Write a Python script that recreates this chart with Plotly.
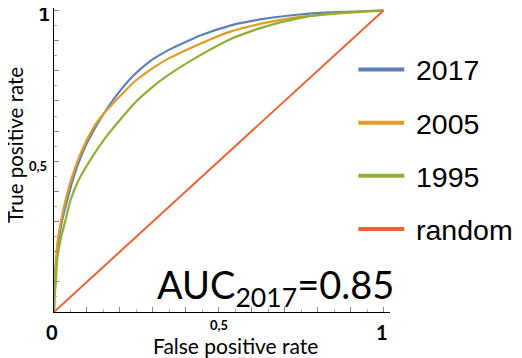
import plotly.graph_objects as go

# ROC curves (false positive rate, true positive rate)
fpr_2017 = [0, 0.002, 0.0076, 0.0145, 0.025, 0.040, 0.060, 0.090, 0.121, 0.171, 0.2015,
            0.242, 0.292, 0.343, 0.444, 0.535, 0.636, 0.737, 0.838, 1]
tpr_2017 = [0, 0.10, 0.172, 0.239, 0.305, 0.371, 0.449, 0.537, 0.604, 0.690, 0.735,
            0.785, 0.832, 0.866, 0.917, 0.950, 0.972, 0.986, 0.994, 1]

fpr_2005 = [0, 0.0015, 0.005, 0.0115, 0.022, 0.035, 0.055, 0.085, 0.116, 0.141, 0.171,
            0.2015, 0.242, 0.292, 0.343, 0.444, 0.535, 0.636, 0.737, 0.838, 1]
tpr_2005 = [0, 0.096, 0.16, 0.239, 0.305, 0.371, 0.449, 0.537, 0.604, 0.645, 0.682,
            0.717, 0.762, 0.803, 0.838, 0.890, 0.930, 0.958, 0.977, 0.988, 1]

fpr_1995 = [0, 0.0015, 0.0045, 0.0097, 0.0197, 0.035, 0.05, 0.075, 0.11, 0.161, 0.242,
            0.292, 0.343, 0.444, 0.535, 0.595, 0.636, 0.737, 0.838, 1]
tpr_1995 = [0, 0.05, 0.084, 0.172, 0.239, 0.305, 0.371, 0.438, 0.504, 0.585, 0.690,
            0.740, 0.783, 0.852, 0.905, 0.930, 0.945, 0.973, 0.990, 1]

fpr_random = [0, 1]
tpr_random = [0, 1]

series_names = ["2017", "2005", "1995", "random"]
series_colours = ["#5e81b5", "#e19c24", "#8fb032", "#eb6235"]

x_tick_vals = [0, 0.5, 1]
x_tick_text = ["0", "0,5", "1"]
y_tick_vals = [0.5, 1]
y_tick_text = ["0,5", "1"]

auc_text = "AUC<sub>2017</sub>=0.85"

# everything below is in pixels of the 522 x 358 window;
# the page body has an 8px margin so the figure itself is 8px smaller
W, H, OFF = 522, 358, 8
left, right, top, bottom = 53.5, 390, 8, 312


def px_x(px):
    return (px - left) / (right - left)


def px_y(py):
    return (bottom - py) / (bottom - top)


fig = go.Figure()

curves = [(fpr_2017, tpr_2017), (fpr_2005, tpr_2005), (fpr_1995, tpr_1995), (fpr_random, tpr_random)]
for (xs, ys), name, colour in zip(curves, series_names, series_colours):
    fig.add_trace(go.Scatter(
        x=xs, y=ys, mode="lines", name=name,
        line=dict(color=colour, width=2.2 if name != "random" else 2, shape="spline", smoothing=0.5),
        showlegend=False
    ))

# hand-made legend so the line swatches are long like the original
legend_rows = [69.5, 122.7, 175.7, 229]
for row, name, colour in zip(legend_rows, series_names, series_colours):
    fig.add_shape(type="line", xref="paper", yref="paper",
                  x0=px_x(358.3), x1=px_x(404.3), y0=px_y(row), y1=px_y(row),
                  line=dict(color=colour, width=4))
    fig.add_annotation(xref="paper", yref="paper", x=px_x(414), y=px_y(row + 1),
                       text=name, showarrow=False, xanchor="left", yanchor="middle",
                       font=dict(family="Liberation Sans", size=28.5, color="black"))

# tick labels, Mathematica style (big ends, small middle)
for val, txt in zip(x_tick_vals, x_tick_text):
    small = txt == "0,5"
    fig.add_annotation(x=val, y=0, xref="x", yref="y", text="<b>" + txt + "</b>",
                       showarrow=False, xanchor="center", yanchor="top",
                       xshift=-2 if not small else 0, yshift=-3 if small else -6,
                       font=dict(family="Lato", size=13 if small else 20, color="black"))
for val, txt in zip(y_tick_vals, y_tick_text):
    small = txt == "0,5"
    fig.add_annotation(x=0, y=val, xref="x", yref="y", text="<b>" + txt + "</b>",
                       showarrow=False, xanchor="right", yanchor="middle",
                       xshift=-5 if small else -2, yshift=-5 if small else -2,
                       font=dict(family="Lato", size=13 if small else 21, color="black"))

# axis titles
fig.add_annotation(xref="paper", yref="paper", x=px_x(235), y=px_y(345),
                   text="False positive rate", showarrow=False,
                   xanchor="center", yanchor="middle",
                   font=dict(family="Lato", size=21, color="black"))
fig.add_annotation(xref="paper", yref="paper", x=px_x(14.5), y=px_y(145),
                   text="True positive rate", showarrow=False, textangle=-90,
                   xanchor="center", yanchor="middle",
                   font=dict(family="Lato", size=20.5, color="black"))

fig.add_annotation(xref="paper", yref="paper", x=px_x(396), y=px_y(315),
                   text=auc_text, showarrow=False, xanchor="right", yanchor="bottom",
                   font=dict(family="Lato", size=38, color="black"))

axis_common = dict(
    showgrid=False, zeroline=False, showline=True, linecolor="black", linewidth=1.3,
    ticks="inside", ticklen=5, tickcolor="#888888", tickwidth=1, showticklabels=False,
    minor=dict(ticks="inside", ticklen=3, tickcolor="#aaaaaa", dtick=0.05, tick0=0),
)

fig.update_layout(
    width=W - OFF, height=H - OFF,
    margin=dict(l=left - OFF, r=W - right, t=top - OFF, b=H - bottom, pad=0),
    paper_bgcolor="white", plot_bgcolor="white",
    xaxis=dict(range=[0, (right - left) / 330], tickvals=[i / 10 for i in range(11)], **axis_common),
    yaxis=dict(range=[0, (bottom - top) / 301.5], tickvals=[i / 10 for i in range(11)], **axis_common),
)

fig.write_html("out.html")
